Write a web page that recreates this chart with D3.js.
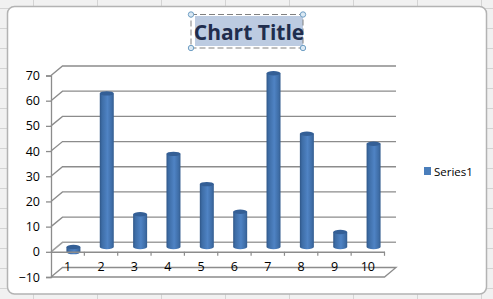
<!DOCTYPE html>
<html lang="en">
<head>
<meta charset="UTF-8" />
<title>Chart Title</title>
<script src="https://d3js.org/d3.v7.min.js"></script>
<style>
  html, body { margin: 0; padding: 0; background: #fff; overflow: hidden; }
  svg { display: block; }
  text { font-family: "Open Sans", sans-serif; fill: #000; }
</style>
</head>
<body>
<svg width="493" height="299"></svg>
<script>
const categories = ["1", "2", "3", "4", "5", "6", "7", "8", "9", "10"];
const seriesValues = [-2, 61, 13, 37, 25, 14, 69, 45, 6, 41];
const valueTicks = [-10, 0, 10, 20, 30, 40, 50, 60, 70];
const seriesName = "Series1";
const chartTitle = "Chart Title";

const svg = d3.select("svg");
const defs = svg.append("defs");

// 3d depth of the chart box
const depthX = 11.5, depthY = 9.5;

const x = d3.scaleBand().domain(categories).range([51, 384.5]);
const y = d3.scaleLinear().domain([-10, 70]).range([277, 75.5]);

// spreadsheet behind the chart
svg.append("rect").attr("width", 493).attr("height", 299).attr("fill", "#f1f1f1");
const sheet = svg.append("g").attr("stroke", "#d4d4d4");
[33, 97, 161, 225, 289, 353, 417, 481].forEach(v => sheet.append("line").attr("x1", v + .5).attr("x2", v + .5).attr("y1", 0).attr("y2", 299));
[8, 28, 48, 68, 88, 108, 128, 148, 168, 188, 208, 228, 248, 268, 288].forEach(v => sheet.append("line").attr("x1", 0).attr("x2", 493).attr("y1", v + .5).attr("y2", v + .5));

svg.append("rect")
  .attr("x", 7.5).attr("y", 6.5).attr("width", 479).attr("height", 287.5).attr("rx", 7)
  .attr("fill", "#fff").attr("stroke", "#b3b3b3").attr("stroke-width", 1.5);

// title with selection handles
const box = { x: 191, y: 14.5, w: 112, h: 33.5 };
svg.append("rect").attr("x", 195).attr("y", 16).attr("width", 108).attr("height", 30).attr("fill", "#bccbe1");
svg.append("rect").attr("x", box.x).attr("y", box.y).attr("width", box.w).attr("height", box.h)
  .attr("fill", "none").attr("stroke", "#808080").attr("stroke-dasharray", "6 3");
[[box.x, box.y], [box.x + box.w, box.y], [box.x, box.y + box.h], [box.x + box.w, box.y + box.h]].forEach(p => {
  svg.append("circle").attr("cx", p[0]).attr("cy", p[1]).attr("r", 2.7)
    .attr("fill", "#dbe9f4").attr("stroke", "#6f9fc4").attr("stroke-width", 1);
});
svg.append("text").attr("x", 249).attr("y", 40).attr("text-anchor", "middle")
  .attr("font-size", 21).attr("font-weight", 700).style("fill", "#1f2d4d").text(chartTitle);

// gridlines, wall diagonals
const grid = svg.append("g");
valueTicks.forEach(v => {
  if (v === 0) return;
  const yy = y(v), yb = yy - depthY;
  const xEnd = x.range()[1];
  grid.append("path")
    .attr("d", `M${x.range()[0]},${yy}L${x.range()[0] + depthX},${yb}H${xEnd + depthX}` + (v === -10 ? `L${xEnd},${yy}H${x.range()[0]}` : ""))
    .attr("fill", "none").attr("stroke", "#8c8c8c").attr("stroke-width", 1.3);
});
grid.append("path")
  .attr("d", `M${x.range()[0]},${y(0)}L${x.range()[0] + depthX},${y(0) - depthY}H${x.range()[1] + depthX}`)
  .attr("fill", "none").attr("stroke", "#a0a0a0").attr("stroke-width", 1.5);

// value axis
const axisY = svg.append("g").attr("transform", "translate(51,0)")
  .call(d3.axisLeft(y).tickValues(valueTicks).tickSize(5).tickPadding(6));
axisY.selectAll("path,line").attr("stroke", "#8c8c8c").attr("stroke-width", 1.3);
axisY.attr("font-family", null);
axisY.selectAll("text").attr("font-size", 12.5);

// cylinders
const grad = defs.append("linearGradient").attr("id", "cyl");
[[0, "#2f5687"], [.15, "#3d6ca5"], [.55, "#4f83c4"], [.85, "#3f6ea8"], [1, "#345d8f"]].forEach(s => {
  grad.append("stop").attr("offset", s[0]).attr("stop-color", s[1]);
});

const barW = 14, rim = 2.2;
const bars = svg.append("g").selectAll("g").data(seriesValues).enter().append("g");
const bx = (d, i) => x(categories[i]) + x.bandwidth() / 2 + depthX / 2 - barW / 2;
const base = y(0) - depthY / 2;
const barTop = d => base - (y(0) - y(d));

bars.append("path")
  .attr("d", (d, i) => {
    const l = bx(d, i), r = l + barW;
    const a = Math.min(base, barTop(d)), b = Math.max(base, barTop(d));
    return `M${l},${a}V${b}A${barW / 2},${rim} 0 0 0 ${r},${b}V${a}Z`;
  })
  .attr("fill", "url(#cyl)");
bars.append("ellipse")
  .attr("cx", (d, i) => bx(d, i) + barW / 2)
  .attr("cy", d => Math.min(base, barTop(d)))
  .attr("rx", barW / 2).attr("ry", rim)
  .attr("fill", "#345f96");

// category axis, ticks hang from the zero line
const axisX = svg.append("g").attr("transform", `translate(0,${y(0)})`)
  .call(d3.axisBottom(x).tickSize(0).tickPadding(10));
axisX.select(".domain").attr("stroke", "#8c8c8c").attr("stroke-width", 1.5);
axisX.attr("font-family", null);
axisX.selectAll("text").attr("font-size", 12.5);
axisX.selectAll(".sep").data(x.domain().map(c => x(c) + x.bandwidth())).enter().append("line")
  .attr("class", "sep").attr("x1", d => d).attr("x2", d => d).attr("y1", 0).attr("y2", 4)
  .attr("stroke", "#8c8c8c").attr("stroke-width", 1.2);

// legend
svg.append("rect").attr("x", 424).attr("y", 167).attr("width", 7).attr("height", 8).attr("fill", "#4a7ebb");
svg.append("text").attr("x", 434).attr("y", 175.5).attr("font-size", 11.5).text(seriesName);
</script>
</body>
</html>
